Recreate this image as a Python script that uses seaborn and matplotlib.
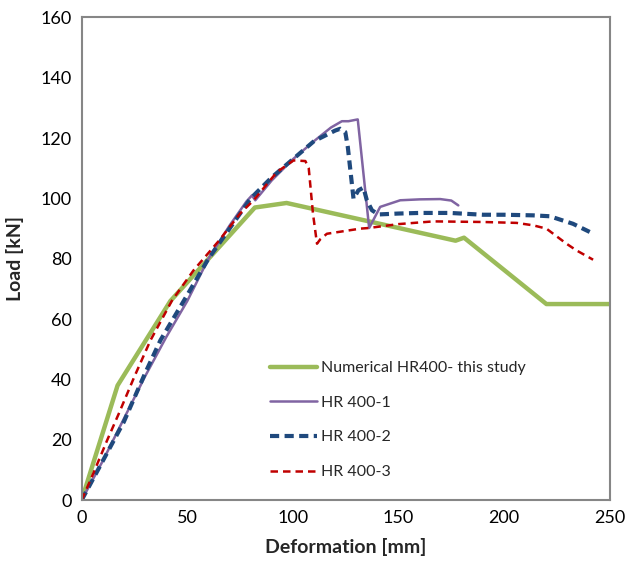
import matplotlib
matplotlib.use("Agg")
import matplotlib.pyplot as plt
import seaborn as sns
import pandas as pd

# Numerical HR400 - this study
num_x = [0, 17, 42, 82, 97, 177, 181, 220, 250]
num_y = [0, 38, 66, 97, 98.5, 86, 87, 65, 65]

# HR 400-1
hr1_x = [0, 10, 20, 30, 40, 50, 60, 70, 78, 80.6, 82.2, 90, 100, 110, 118, 123.2, 126.3, 130.7,
         136.1, 141.3, 150.8, 160, 169.7, 175, 178.3]
hr1_y = [0, 13, 27, 41, 54, 66, 80, 91, 99, 101, 99.4, 106, 113, 119, 123.5, 125.6, 125.6, 126.2,
         90.2, 97.2, 99.4, 99.7, 99.8, 99.3, 97.7]

# HR 400-2
hr2_x = [0, 10, 20, 30, 37.3, 50, 60, 70, 80, 90, 100, 110, 120, 122.4, 124.8, 126, 128.7, 131,
         133.4, 135, 137.4, 140.5, 150, 160, 174.4, 190, 200, 213.7, 221.6, 232.6, 240.5]
hr2_y = [0, 13, 26, 42, 53, 68, 80, 90, 100, 107, 113, 119, 122.5, 123.1, 122, 117, 99.9, 102.7,
         103.6, 99.4, 96.1, 94.7, 95, 95.2, 95.2, 94.6, 94.6, 94.4, 94.1, 91.6, 88.9]

# HR 400-3
hr3_x = [0, 5, 12.1, 17.6, 25, 32.6, 42.8, 53, 65, 75, 81.4, 92.5, 100.3, 105.9, 107.5, 109.5,
         111.4, 113, 116.1, 131.9, 135.8, 150, 166.5, 190, 205.9, 213.7, 220, 229.5, 234.2, 242.1]
hr3_y = [0, 8, 19.9, 28.7, 41, 53, 66.2, 76.2, 86, 95, 99.4, 108.8, 112.6, 112.4, 110, 95,
         85, 86.5, 88.3, 90, 90.2, 91.5, 92.4, 92.2, 91.9, 91.1, 90, 85, 82.8, 79.7]

labels = ["Numerical HR400- this study", "HR 400-1", "HR 400-2", "HR 400-3"]

sns.set_style("white")
plt.rcParams["font.family"] = ["Lato", "DejaVu Sans"]

fig = plt.figure(figsize=(6.28, 5.62), dpi=100)
ax = fig.add_axes([0.130, 0.110, 0.841, 0.859])

series = [(num_x, num_y), (hr1_x, hr1_y), (hr2_x, hr2_y), (hr3_x, hr3_y)]
styles = [
    dict(color="#9BBB59", lw=3.2, linestyle="-"),
    dict(color="#8064A2", lw=1.8, linestyle="-"),
    dict(color="#1F497D", lw=3.0, linestyle=(0, (2.2, 1.3))),
    dict(color="#C00000", lw=1.8, linestyle=(0, (3, 2))),
]
for (xs, ys), lab, st in zip(series, labels, styles):
    df = pd.DataFrame({"x": xs, "y": ys})
    sns.lineplot(data=df, x="x", y="y", ax=ax, label=lab, sort=False,
                 estimator=None, **st)

ax.set_xlim(0, 250)
ax.set_ylim(0, 160)
ax.set_xticks([0, 50, 100, 150, 200, 250])
ax.set_yticks(range(0, 161, 20))
ax.tick_params(axis="both", labelsize=13, length=0, pad=7, colors="black")
for s in ax.spines.values():
    s.set_color("#868686")
    s.set_linewidth(1.5)
    s.set_visible(True)

ax.set_xlabel("Deformation [mm]", fontsize=14, fontweight="bold", labelpad=9)
ax.set_ylabel("Load [kN]", fontsize=14, fontweight="bold", labelpad=12)

leg = ax.legend(loc="upper left", bbox_to_anchor=(0.33, 0.318), frameon=False,
                fontsize=11.5, handlelength=2.95, handletextpad=0.2, labelspacing=1.28)

fig.savefig("out.png", dpi=100)
